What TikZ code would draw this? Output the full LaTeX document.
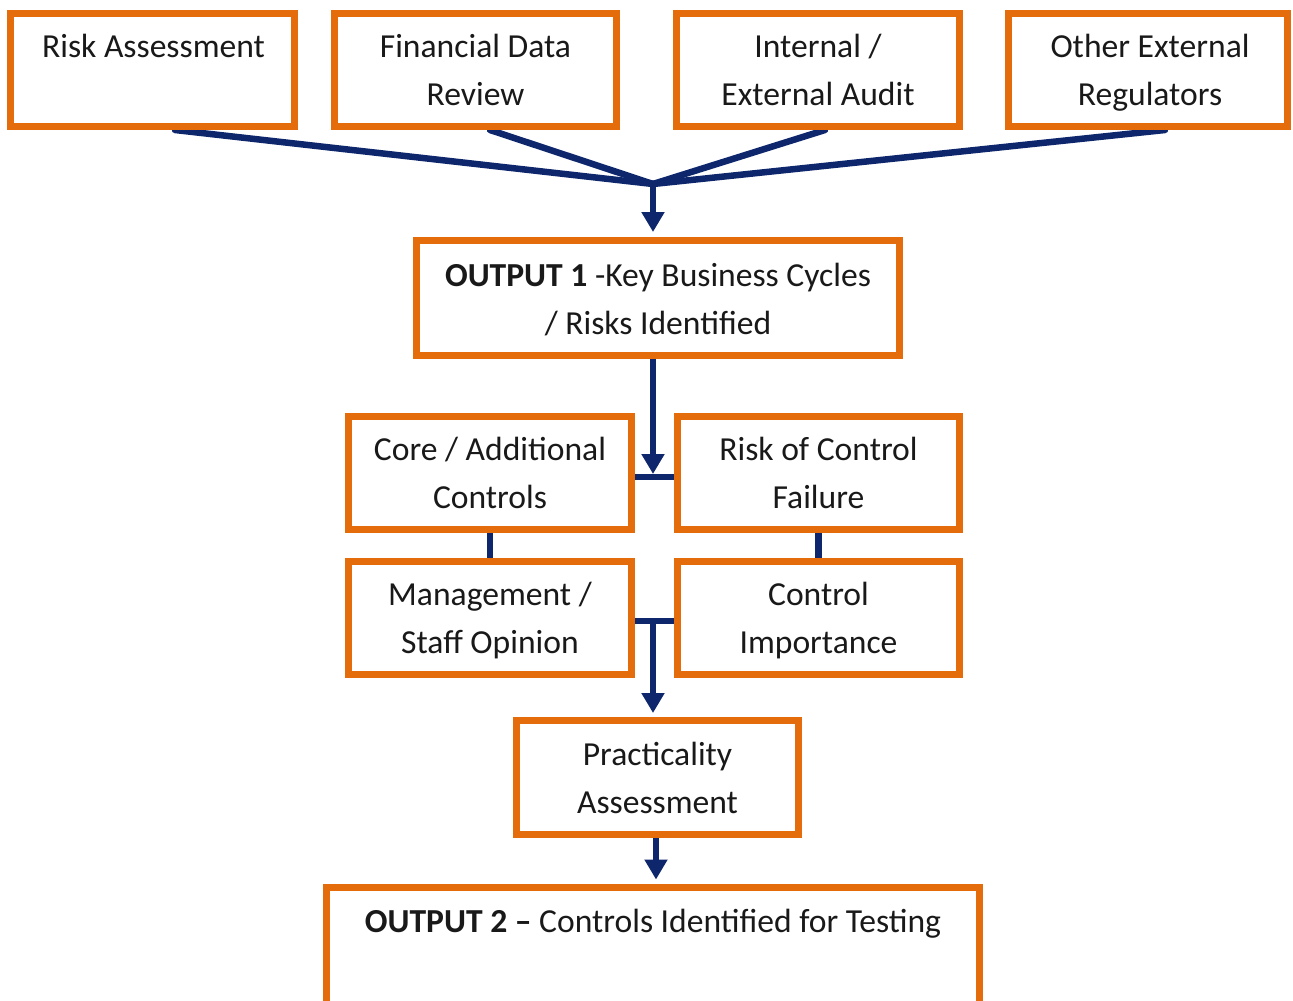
\documentclass[tikz,border=0pt]{standalone}
\usepackage{fontspec}
\setmainfont{Carlito}
\usetikzlibrary{arrows.meta,backgrounds}
\definecolor{boxorange}{RGB}{228,108,10}
\definecolor{linkblue}{RGB}{14,38,108}
\begin{document}
\begin{tikzpicture}[x=1pt,y=-1pt,
  box/.style={draw=boxorange,line width=7pt,fill=white,inner sep=0pt},
  lbl/.style={font=\fontsize{33.6}{48}\selectfont,align=center,inner sep=0pt,anchor=north,text=black!90},
  conn/.style={draw=linkblue,line width=6.5pt},
  arr/.style={conn,-{Triangle[width=22pt,length=20pt]}}]
\useasboundingbox (0,0) rectangle (1293,1001);
\clip (0,0) rectangle (1293,1001);

% boxes
\node[box,minimum width=284pt,minimum height=113pt] (ra) at (152.5,70) {};
\node[box,minimum width=282pt,minimum height=113pt] (fd) at (475.5,70) {};
\node[box,minimum width=283pt,minimum height=113pt] (ia) at (818,70) {};
\node[box,minimum width=279pt,minimum height=113pt] (oe) at (1148,70) {};
\node[box,minimum width=483pt,minimum height=115pt] (o1) at (658,298) {};
\node[box,minimum width=283pt,minimum height=113pt] (ca) at (490,473) {};
\node[box,minimum width=282pt,minimum height=113pt] (rc) at (818.5,473) {};
\node[box,minimum width=283pt,minimum height=113pt] (ms) at (490,618) {};
\node[box,minimum width=282pt,minimum height=113pt] (ci) at (818.5,618) {};
\node[box,minimum width=282pt,minimum height=114pt] (pa) at (657.5,777.5) {};
\node[box,minimum width=653pt,minimum height=118pt] (o2) at (653,946) {};

% texts
\node[lbl] (ra-t) at (153.5,23.4) {\strut Risk Assessment};
\node[lbl] (fd-t) at (475.5,23.4) {\strut Financial Data\\Review};
\node[lbl] (ia-t) at (818,23.4) {\strut Internal /\\External Audit};
\node[lbl] (oe-t) at (1150,23.4) {\strut Other External\\Regulators};
\node[lbl] (o1-t) at (658,252.4) {\strut\textbf{OUTPUT 1} -Key Business Cycles\\/ Risks Identified};
\node[lbl] (ca-t) at (490,426.4) {\strut Core / Additional\\Controls};
\node[lbl] (rc-t) at (818.5,426.4) {\strut Risk of Control\\Failure};
\node[lbl] (ms-t) at (490,571.4) {\strut Management /\\Staff Opinion};
\node[lbl] (ci-t) at (818.5,571.4) {\strut Control\\Importance};
\node[lbl] (pa-t) at (657.5,731.4) {\strut Practicality\\Assessment};
\node[lbl] (o2-t) at (653,898.4) {\strut\textbf{OUTPUT 2 –} Controls Identified for Testing};

% connectors
\coordinate (j) at (653,184);
\coordinate (b1) at (653,477);
\coordinate (b2) at (653,621);
\begin{scope}[on background layer]
  \draw[conn,line cap=round] ([xshift=22.5pt]ra.south) -- (j);
  \draw[conn,line cap=round] ([xshift=14.5pt]fd.south) -- (j);
  \draw[conn,line cap=round] ([xshift=7pt]ia.south) -- (j);
  \draw[conn,line cap=round] ([xshift=17pt]oe.south) -- (j);
  \draw[conn] (ca.east |- b1) -- (rc.west |- b1);
  \draw[conn] (ms.east |- b2) -- (ci.west |- b2);
  \draw[conn] (ca.south) -- (ms.north);
  \draw[conn] (rc.south) -- (ci.north);
\end{scope}
\draw[arr] (j) -- ([yshift=5pt]j |- o1.north);
\draw[arr] (b1 |- o1.south) -- ([yshift=3pt]b1);
\draw[arr] (b2) -- ([yshift=4pt]b2 |- pa.north);
\draw[arr] ([xshift=-1.5pt]pa.south) -- ([xshift=-1.5pt,yshift=4pt]pa.south |- o2.north);
\end{tikzpicture}
\end{document}
